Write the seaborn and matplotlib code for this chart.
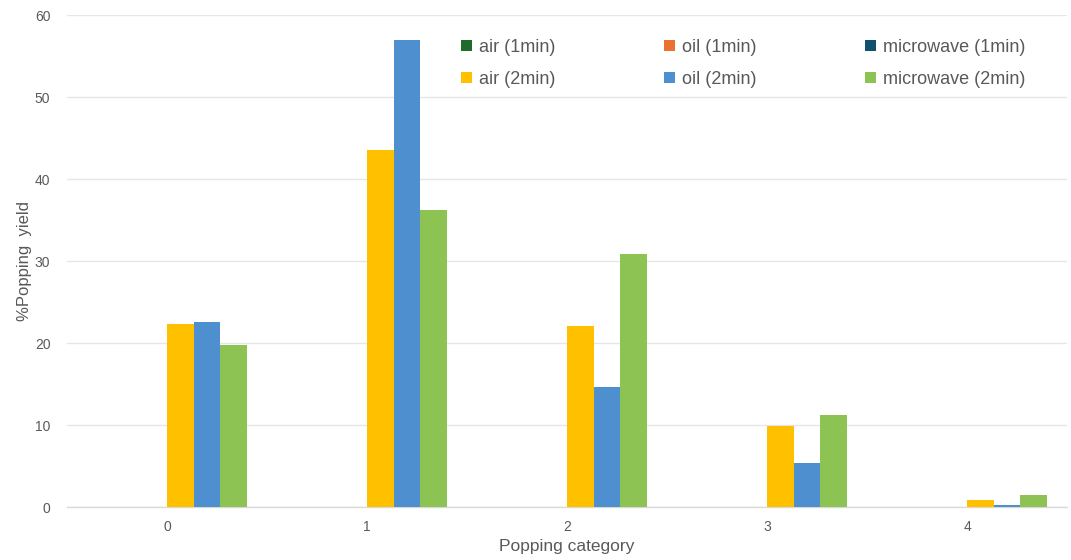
import matplotlib
matplotlib.use("Agg")
import matplotlib.pyplot as plt
import seaborn as sns
import pandas as pd
from matplotlib.patches import Patch

# Popping yield (%) by popping category, per method and heating time
categories = ["0", "1", "2", "3", "4"]
air_1min = [0, 0, 0, 0, 0]
oil_1min = [0, 0, 0, 0, 0]
microwave_1min = [0, 0, 0, 0, 0]
air_2min = [22.3, 43.5, 22.1, 9.9, 0.9]
oil_2min = [22.6, 57.0, 14.6, 5.4, 0.3]
microwave_2min = [19.8, 36.2, 30.9, 11.2, 1.5]

series_names = ["air (1min)", "oil (1min)", "microwave (1min)",
                "air (2min)", "oil (2min)", "microwave (2min)"]
series_values = [air_1min, oil_1min, microwave_1min,
                 air_2min, oil_2min, microwave_2min]
series_colors = ["#1E6B2C", "#E97132", "#12506F",
                 "#FFC000", "#4E8FD0", "#8DC352"]

rows = []
for name, vals in zip(series_names, series_values):
    for cat, v in zip(categories, vals):
        rows.append({"category": cat, "series": name, "value": v})
df = pd.DataFrame(rows)

sns.set_theme(style="white")
plt.rcParams["font.family"] = ["Liberation Sans", "DejaVu Sans"]

fig = plt.figure(figsize=(10.71, 5.6), dpi=100)
ax = fig.add_axes([0.0626, 0.0946, 0.9337, 0.8784])

sns.barplot(data=df, x="category", y="value", hue="series",
            hue_order=series_names, order=categories,
            palette=series_colors, width=0.8, saturation=1,
            errorbar=None, legend=False, ax=ax, zorder=3)
for p in ax.patches:
    p.set_linewidth(0)

ax.set_xlim(-0.5, 4.5)
ax.set_ylim(0, 60)
ax.set_yticks(range(0, 61, 10))
ax.yaxis.grid(True, color="#E6E6E6", linewidth=1, zorder=0)
ax.xaxis.grid(False)
for side in ["top", "right", "left"]:
    ax.spines[side].set_visible(False)
ax.spines["bottom"].set_color("#D9D9D9")
ax.spines["bottom"].set_linewidth(1)
ax.tick_params(axis="both", length=0, labelsize=10, colors="#595959")
ax.tick_params(axis="x", pad=9)
ax.tick_params(axis="y", pad=12)

ax.set_xlabel("Popping category", fontsize=12.5, color="#595959", labelpad=4)
ax.set_ylabel("%Popping  yield", fontsize=12, color="#595959", labelpad=2)

# Legend: 3 columns x 2 rows, read row-wise (1min on top, 2min below)
handles = [Patch(facecolor=c, edgecolor="none") for c in series_colors]
order = [0, 3, 1, 4, 2, 5]
leg = ax.legend([handles[i] for i in order], [series_names[i] for i in order],
                ncol=3, loc="upper left", bbox_to_anchor=(0.378, 0.985),
                frameon=False, handlelength=0.6, handleheight=0.6,
                handletextpad=0.4, columnspacing=6.0, labelspacing=0.85,
                prop={"family": ["Liberation Sans", "DejaVu Sans"], "size": 13})
for t in leg.get_texts():
    t.set_color("#595959")

fig.savefig("out.png", dpi=100, facecolor="white")
